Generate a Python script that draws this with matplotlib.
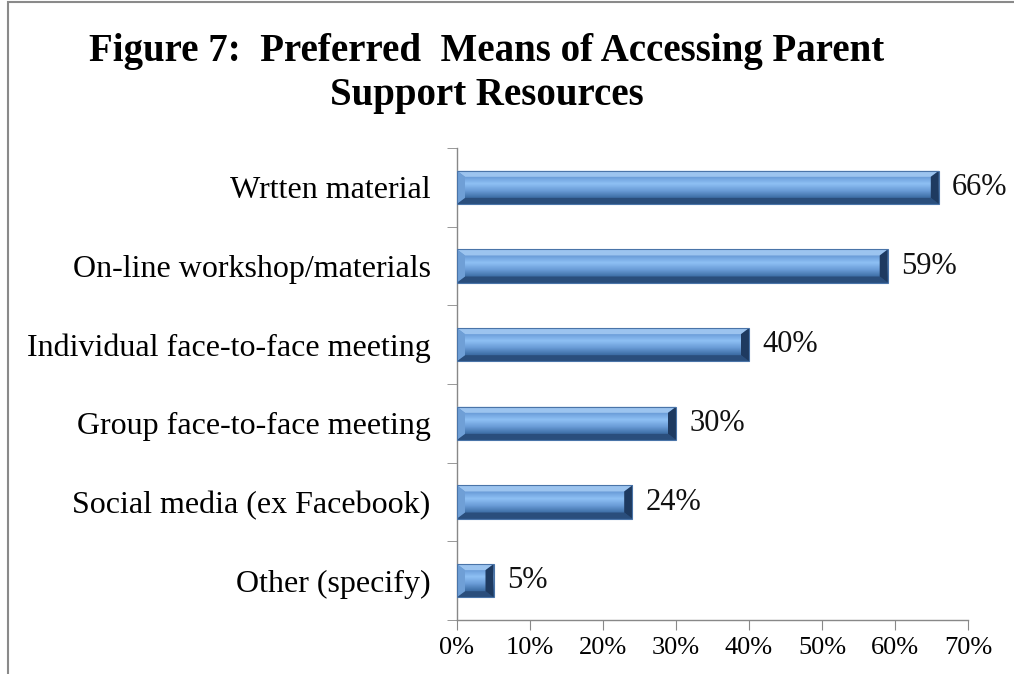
import numpy as np
import matplotlib
matplotlib.use("Agg")
import matplotlib.pyplot as plt
from matplotlib.patches import Polygon, Rectangle
from matplotlib.colors import LinearSegmentedColormap

plt.rcParams['font.family'] = ['Liberation Serif', 'DejaVu Serif']

categories = ["Wrtten material", "On-line workshop/materials",
              "Individual face-to-face meeting", "Group face-to-face meeting",
              "Social media (ex Facebook)", "Other (specify)"]
values = [66, 59, 40, 30, 24, 5]
xtick_values = [0, 10, 20, 30, 40, 50, 60, 70]
xtick_labels = [f"{v}%" for v in xtick_values]
title = "Figure 7:  Preferred  Means of Accessing Parent\nSupport Resources"

W, H = 1014, 674
fig = plt.figure(figsize=(W / 100, H / 100), dpi=100)
ax = fig.add_axes([457 / W, 1 - 620 / H, (968 - 457) / W, (620 - 148) / H])

n = len(categories)
ypos = np.arange(n)
bar_h = 0.42
ax.set_xlim(0, 70)
ax.set_ylim(n - 0.5, -0.5)

# vertical shading across each bar (top -> bottom)
body_cmap = LinearSegmentedColormap.from_list(
    "body", ["#5588c6", "#6a9cd8", "#8ec0f4", "#6b9dd8", "#3f70a8", "#2d5586"])

# bevel sizes in data units
px_x = 70 / (968 - 457)
px_y = 6 / (620 - 148)
bx, by = 8 * px_x, 6 * px_y

for y, v in zip(ypos, values):
    top, bot = y - bar_h / 2, y + bar_h / 2
    grad = np.linspace(0, 1, 256).reshape(-1, 1)
    im = ax.imshow(grad, cmap=body_cmap, aspect='auto',
                   extent=[0, v, bot, top], zorder=2, interpolation='bilinear')
    rect = Rectangle((0, top), v, bar_h, transform=ax.transData,
                     facecolor='none', edgecolor='none')
    ax.add_patch(rect)
    im.set_clip_path(rect)
    bxe = min(bx, v / 2)
    # top bevel (light)
    ax.add_patch(Polygon([(0, top), (v, top), (v - bxe, top + by), (bxe, top + by)],
                         closed=True, facecolor='#9cc4ef', edgecolor='none', zorder=3))
    # bottom bevel (dark)
    ax.add_patch(Polygon([(0, bot), (v, bot), (v - bxe, bot - by), (bxe, bot - by)],
                         closed=True, facecolor='#2a4e7c', edgecolor='none', zorder=3))
    # left bevel
    ax.add_patch(Polygon([(0, top), (bxe, top + by), (bxe, bot - by), (0, bot)],
                         closed=True, facecolor='#6f9fd6', edgecolor='none', zorder=3))
    # right bevel (shadowed)
    ax.add_patch(Polygon([(v, top), (v - bxe, top + by), (v - bxe, bot - by), (v, bot)],
                         closed=True, facecolor='#1e3a60', edgecolor='none', zorder=3))
    # thin outline
    ax.add_patch(Rectangle((0, top), v, bar_h, facecolor='none',
                           edgecolor='#4a74a8', linewidth=0.8, zorder=4))
    ax.text(v + 1.8, y, f"{v}%", va='center', ha='left', fontsize=22, color='#111111')

ax.set_yticks(ypos)
ax.set_yticklabels(categories, fontsize=23)
ax.set_yticks(np.arange(-0.5, n, 1), minor=True)
ax.tick_params(axis='y', which='major', length=0, pad=19)
ax.tick_params(axis='y', which='minor', length=7, direction='out', color='#888888')
ax.set_xticks(xtick_values)
ax.set_xticklabels(xtick_labels, fontsize=19)
ax.tick_params(axis='x', length=7, direction='out', color='#888888', pad=5)

for side in ['top', 'right']:
    ax.spines[side].set_visible(False)
for side in ['left', 'bottom']:
    ax.spines[side].set_color('#888888')
    ax.spines[side].set_linewidth(1.0)

fig.text(487 / W, 1 - 73 / H, title, ha='center', va='center', fontsize=28,
         fontweight='bold', linespacing=1.25)

# outer chart frame
fig.add_artist(Rectangle((8 / W, -0.1), 1.2, 1 - 2 / H + 0.1, transform=fig.transFigure,
                         facecolor='none', edgecolor='#8a8a8a', linewidth=1.5))

fig.savefig("out.png", dpi=100)
